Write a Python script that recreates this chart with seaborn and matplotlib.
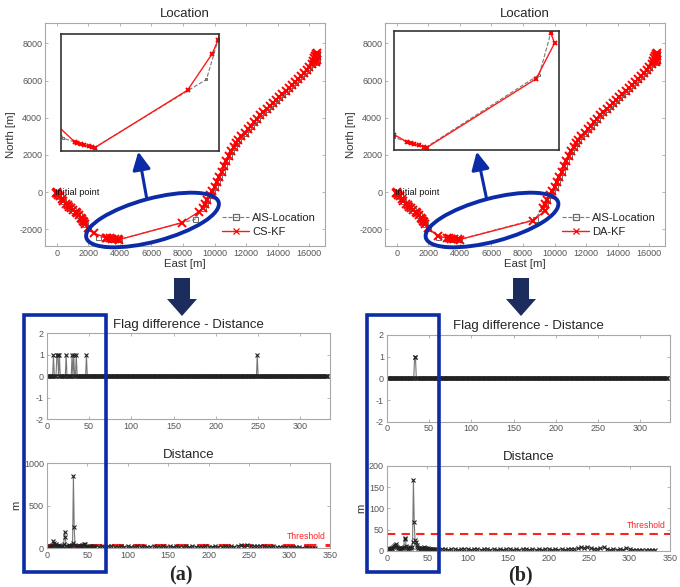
import numpy as np
import matplotlib
matplotlib.use("Agg")
import matplotlib.pyplot as plt
import seaborn as sns
from matplotlib.patches import Ellipse, Rectangle, FancyArrow

# ---- track data [m] ----
# shared start of the track (initial point -> first turn)
start_east = [0, -30, 20, 40, 90, 170, 300, 420, 560, 700, 760, 900, 1050, 1200,
              1260, 1400, 1520, 1580, 1650, 1720, 1780, 2000]
start_north = [0, -40, -30, -70, -130, -220, -380, -500, -620, -700, -780, -880,
               -980, -1060, -1120, -1250, -1380, -1450, -1550, -1630, -1700, -1950]

# section inside the ellipse, one per series
ais_mid_east = [2600, 3150, 3300, 3450, 3650, 3850, 3950, 8750]
ais_mid_north = [-2400, -2470, -2490, -2500, -2520, -2540, -2550, -1470]
cskf_mid_east = [2350, 3100, 3200, 3350, 3500, 3700, 3850, 3950, 7940, 9000]
cskf_mid_north = [-2200, -2460, -2480, -2495, -2510, -2530, -2545, -2555, -1640, -1060]
dakf_mid_east = [2600, 3150, 3300, 3450, 3650, 3850, 3980, 8620, 9400]
dakf_mid_north = [-2360, -2470, -2490, -2505, -2520, -2540, -2555, -1530, -1000]

# shared end of the track (north-east leg)
end_east = [9240, 9400, 9550, 9700, 9850, 10000, 10150, 10300, 10450, 10600, 10750,
            10900, 11050, 11200, 11350, 11500, 11700, 11900, 12100, 12300, 12500,
            12700, 12900, 13100, 13300, 13500, 13700, 13900, 14100, 14300, 14500,
            14700, 14900, 15100, 15300, 15500, 15700, 15850, 16000, 16150, 16250,
            16330, 16380, 16420, 16480, 16500, 16480, 16420]
end_north = [-850, -620, -400, -180, 50, 300, 560, 830, 1100, 1380, 1650, 1920,
             2200, 2450, 2650, 2820, 3000, 3180, 3380, 3580, 3780, 3960, 4150, 4320,
             4490, 4650, 4810, 4960, 5110, 5260, 5420, 5580, 5740, 5900, 6070, 6250,
             6430, 6570, 6730, 6900, 7050, 7200, 7350, 7450, 7480, 7300, 7100, 6980]

ais_east = start_east + ais_mid_east + end_east
ais_north = start_north + ais_mid_north + end_north
cskf_east = start_east + cskf_mid_east + end_east
cskf_north = start_north + cskf_mid_north + end_north
dakf_east = start_east + dakf_mid_east + end_east
dakf_north = start_north + dakf_mid_north + end_north

# ---- flag difference (sample index where flag = 1, else 0) ----
n_samples = 333
flag_cs_ones = [8, 12, 13, 15, 23, 30, 32, 35, 47, 249]
flag_da_ones = [33, 34]

# ---- distance [m] : samples 0..59 one by one, then every 4th sample ----
dist_cs_head = [15, 20, 12, 18, 25, 30, 22, 35, 85, 65,
                40, 55, 30, 20, 25, 35, 28, 18, 22, 30,
                25, 45, 195, 130, 30, 20, 18, 25, 40, 30,
                22, 35, 60, 850, 245, 40, 30, 25, 20, 28,
                18, 22, 30, 25, 35, 40, 50, 45, 30, 20,
                15, 25, 18, 22, 12, 20, 25, 15, 18, 22]
dist_cs_tail = [20, 15, 25, 18, 22, 28, 15, 20, 25, 18,
                22, 15, 20, 28, 18, 24, 15, 20, 25, 18,
                20, 25, 15, 22, 18, 26, 20, 15, 22, 18,
                24, 18, 20, 15, 25, 20, 18, 22, 16, 20,
                22, 18, 25, 20, 30, 35, 28, 38, 30, 25,
                22, 32, 28, 20, 18, 22, 15, 20, 18, 15,
                12, 15, 10, 12, 8, 10, 8, 6, 5]
dist_da_head = [3, 5, 4, 6, 5, 8, 6, 5, 10, 12,
                14, 12, 16, 10, 8, 6, 5, 7, 6, 8,
                6, 10, 28, 30, 12, 6, 5, 8, 7, 9,
                8, 10, 20, 167, 69, 25, 22, 14, 10, 8,
                6, 5, 7, 5, 6, 8, 10, 7, 6, 5,
                4, 6, 5, 4, 5, 3, 4, 5, 3, 4]
dist_da_tail = [4, 3, 5, 4, 3, 5, 4, 3, 4, 5,
                4, 3, 5, 4, 3, 4, 5, 3, 4, 3,
                4, 3, 4, 5, 3, 4, 3, 4, 5, 3,
                4, 3, 4, 3, 5, 4, 3, 4, 3, 4,
                3, 4, 5, 4, 6, 9, 8, 10, 7, 5,
                4, 6, 9, 5, 3, 4, 3, 4, 3, 8,
                4, 3, 3, 2, 3, 2, 3, 2, 2]
threshold = 40

sample_idx = np.arange(n_samples)
dist_idx = np.concatenate([np.arange(len(dist_cs_head)), np.arange(60, n_samples, 4)])
flag_cs = np.zeros(n_samples)
flag_cs[flag_cs_ones] = 1
flag_da = np.zeros(n_samples)
flag_da[flag_da_ones] = 1

# ---- style ----
sns.set_theme(style="white")
plt.rcParams['font.family'] = ['Liberation Sans', 'DejaVu Sans']
plt.rcParams['axes.unicode_minus'] = False

BLUE = '#0b2ca6'
NAVY = '#1c2c5c'


def style_axes(ax):
    for s in ax.spines.values():
        s.set_color('#a8a8a8')
        s.set_linewidth(0.8)
    ax.tick_params(direction='in', length=2.5, width=0.6, colors='#a8a8a8',
                   labelcolor='#555555', labelsize=6.5, pad=2,
                   bottom=True, left=True, top=True, right=True)


def draw_track(ax, kf_e, kf_n, kf_label, ms=1.0, legend=True):
    sns.lineplot(x=ais_east, y=ais_north, sort=False, estimator=None, ax=ax,
                 color='#7a7a7a', linestyle='--', lw=0.8, marker='s',
                 markersize=3.6 * ms, markerfacecolor='none',
                 markeredgecolor='#6a6a6a', markeredgewidth=0.7,
                 label='AIS-Location', legend=False)
    sns.lineplot(x=kf_e, y=kf_n, sort=False, estimator=None, ax=ax,
                 color='#ff1a1a', lw=1.0, marker='x', markersize=5.4 * ms,
                 markeredgecolor='#ff0000', markeredgewidth=1.4,
                 label=kf_label, legend=False)
    if legend:
        leg = ax.legend(loc='lower right', frameon=False, fontsize=8,
                        handlelength=2.4, borderaxespad=0.4, labelspacing=0.35,
                        handletextpad=0.3)
        for h in leg.legend_handles:
            h.set_markersize(4)
            h.set_markeredgewidth(0.9)
        for t in leg.get_texts():
            t.set_color('#222222')


def location_panel(rect, inset_rect, kf_e, kf_n, kf_label, inset_xlim, inset_ylim):
    ax = fig.add_axes(rect)
    draw_track(ax, kf_e, kf_n, kf_label)
    ax.set_xlim(-750, 17000)
    ax.set_ylim(-2900, 9100)
    ax.set_xticks(range(0, 16001, 2000))
    ax.set_yticks(range(-2000, 8001, 2000))
    style_axes(ax)
    ax.set_title('Location', fontsize=9.5, pad=4)
    ax.set_xlabel('East [m]', fontsize=8.2, color='#333333', labelpad=1)
    ax.set_ylabel('North [m]', fontsize=8.2, color='#333333', labelpad=2)
    ax.text(-120, 0, 'Initial point', fontsize=6.6, va='center', ha='left',
            color='#111111')

    ins = fig.add_axes(inset_rect, zorder=3)
    ins.set_facecolor('white')
    draw_track(ins, kf_e, kf_n, kf_label, ms=0.5, legend=False)
    ins.set_xlim(*inset_xlim)
    ins.set_ylim(*inset_ylim)
    ins.set_xticks([])
    ins.set_yticks([])
    ins.set_xlabel('')
    ins.set_ylabel('')
    for s in ins.spines.values():
        s.set_color('#333333')
        s.set_linewidth(1.2)
    return ax


def flag_panel(rect, flag):
    ax = fig.add_axes(rect)
    sns.lineplot(x=sample_idx, y=flag, sort=False, estimator=None, ax=ax,
                 color='#777777', lw=0.8, marker='x', markersize=3.5,
                 markeredgecolor='#222222', markeredgewidth=0.8)
    ax.set_xlim(0, 335)
    ax.set_ylim(-2, 2)
    ax.set_xticks(range(0, 301, 50))
    ax.set_yticks([-2, -1, 0, 1, 2])
    style_axes(ax)
    ax.set_title('Flag difference - Distance', fontsize=9.5, pad=4)
    return ax


def distance_panel(rect, head, tail, ymax, yticks, thr_lw):
    ax = fig.add_axes(rect)
    ax.axhline(threshold, color='#ff2020', ls=(0, (4, 3)), lw=thr_lw, zorder=1)
    sns.lineplot(x=dist_idx, y=head + tail, sort=False, estimator=None, ax=ax,
                 color='#777777', lw=0.8, marker='x', markersize=3.5,
                 markeredgecolor='#222222', markeredgewidth=0.8, zorder=2)
    ax.annotate('Threshold', xy=(296, threshold), xytext=(0, 2.5),
                textcoords='offset points', va='bottom', ha='left',
                color='#ff2020', fontsize=6.2)
    ax.set_xlim(0, 350)
    ax.set_ylim(0, ymax)
    ax.set_xticks(range(0, 351, 50))
    ax.set_yticks(yticks)
    style_axes(ax)
    ax.set_title('Distance', fontsize=9.5, pad=4)
    ax.set_ylabel('m', fontsize=8, color='#333333', labelpad=2)
    return ax


W, H = 680, 587
fig = plt.figure(figsize=(W / 100, H / 100), dpi=100)


def frac(left, top, right, bottom):
    return [left / W, 1 - bottom / H, (right - left) / W, (bottom - top) / H]


# (a) CS-KF
location_panel(frac(45, 23, 325, 246), frac(60.7, 34, 219.3, 150.7),
               cskf_east, cskf_north, 'CS-KF', (2500, 9300), (-2600, -750))
flag_panel(frac(46.7, 333.3, 330, 419.3), flag_cs)
distance_panel(frac(46.7, 463.3, 330, 548.3), dist_cs_head, dist_cs_tail,
               1000, [0, 500, 1000], 2.2)

# (b) DA-KF
location_panel(frac(385, 23, 665, 246), frac(394, 31, 559.3, 150),
               dakf_east, dakf_north, 'DA-KF', (2600, 9600), (-2590, -820))
flag_panel(frac(386.7, 335, 670, 421.7), flag_da)
distance_panel(frac(386.7, 465.7, 670, 551), dist_da_head, dist_da_tail,
               200, [0, 50, 100, 150, 200], 1.5)

# ---- annotation overlay in pixel coordinates ----
ov = fig.add_axes([0, 0, 1, 1], zorder=20)
ov.set_xlim(0, W)
ov.set_ylim(H, 0)
ov.axis('off')
ov.patch.set_alpha(0)

for cx, arrow_from, arrow_to, box_x0, box_x1, block_x, lab_x, lab in [
        (152.5, (146.7, 198.3), (138.3, 151.7), 24, 106, 182, 181, '(a)'),
        (492.0, (486.7, 199.3), (476.7, 151.7), 367, 439, 521, 520.5, '(b)')]:
    ov.add_patch(Ellipse((cx, 220), width=137, height=43, angle=-15,
                         fill=False, ec=BLUE, lw=2.8))
    ov.annotate('', xy=arrow_to, xytext=arrow_from,
                arrowprops=dict(arrowstyle='-|>,head_length=0.9,head_width=0.45',
                                color=BLUE, lw=2.2, shrinkA=0, shrinkB=0))
    ov.add_patch(FancyArrow(block_x, 278, 0, 38, width=16, head_width=30,
                            head_length=17, length_includes_head=True,
                            color=NAVY, lw=0))
    ov.add_patch(Rectangle((box_x0, 315), box_x1 - box_x0, 257, fill=False,
                           ec=BLUE, lw=2.6))
    ov.text(lab_x, 575, lab, ha='center', va='center', fontsize=14.5,
            fontweight='bold', family=['Liberation Serif', 'DejaVu Serif'])

fig.savefig('out.png', dpi=100)
